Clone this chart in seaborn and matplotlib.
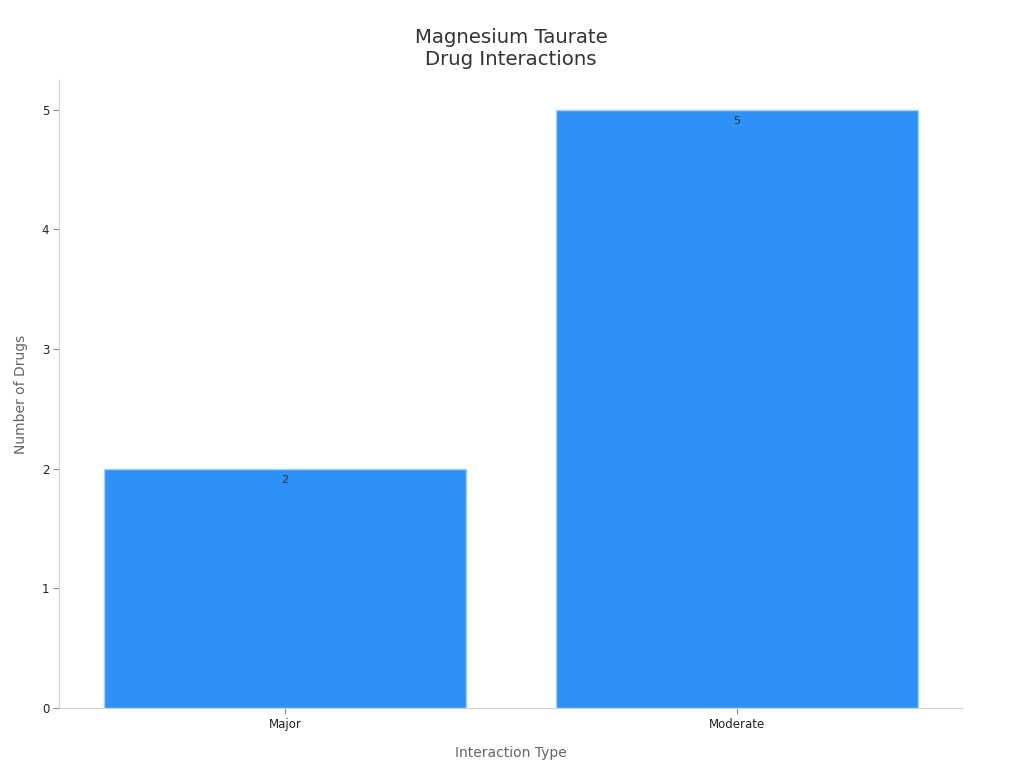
import matplotlib
matplotlib.use("Agg")
import matplotlib.pyplot as plt
import seaborn as sns
import pandas as pd

interaction_types = ["Major", "Moderate"]
drug_counts = [2, 5]

df = pd.DataFrame({"Interaction Type": interaction_types, "Number of Drugs": drug_counts})

sns.set_style("white")
plt.rcParams['font.family'] = ['DejaVu Sans']

fig = plt.figure(figsize=(10.24, 7.68), dpi=100)
ax = fig.add_axes([0.0576, 0.078, 0.8828, 0.818])

sns.barplot(data=df, x="Interaction Type", y="Number of Drugs", color="#2e91f8",
            saturation=1, width=0.8, edgecolor="#a8d0f8", linewidth=1, ax=ax)

# value labels just inside the top of each bar
for i, v in enumerate(drug_counts):
    ax.text(i, v - 0.05, str(v), ha="center", va="top", fontsize=8, color="#333333")

ax.set_xlim(-0.5, 1.5)
ax.set_ylim(0, 5.25)
ax.set_yticks(range(0, 6))

for s in ["top", "right"]:
    ax.spines[s].set_visible(False)
for s in ["left", "bottom"]:
    ax.spines[s].set_color("#d0d0d0")
    ax.spines[s].set_linewidth(0.8)

ax.tick_params(axis="both", bottom=True, left=True, labelsize=8.5, labelcolor="#222222",
               color="#888888", length=4, width=0.8, pad=3)

ax.set_xlabel("Interaction Type", fontsize=10, color="#666666", labelpad=11)
ax.set_ylabel("Number of Drugs", fontsize=10, color="#666666", labelpad=10)
ax.set_title("Magnesium Taurate\nDrug Interactions", fontsize=14.2, color="#333333", pad=11)

fig.savefig("out.png", dpi=100)
plt.close(fig)
